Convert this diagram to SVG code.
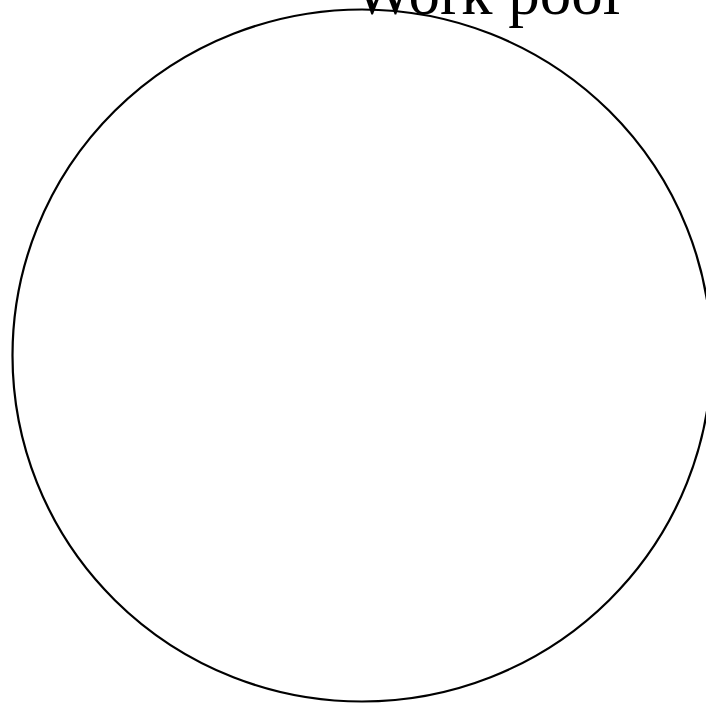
<svg xmlns="http://www.w3.org/2000/svg" width="706" height="703" viewBox="0 0 706 703">
<style>
.n{fill:none;stroke:#000;stroke-width:2.2}
.t{font-family:"Liberation Serif","Times New Roman",serif;font-size:63px;fill:#000}
</style>
<rect width="706" height="703" fill="#fff"/>
<g id="workpool">
<ellipse class="n" cx="362" cy="355.5" rx="349.5" ry="346"/>
<text class="t" x="354" y="14">Work pool</text>
</g>
<g id="connectors"></g>
</svg>
